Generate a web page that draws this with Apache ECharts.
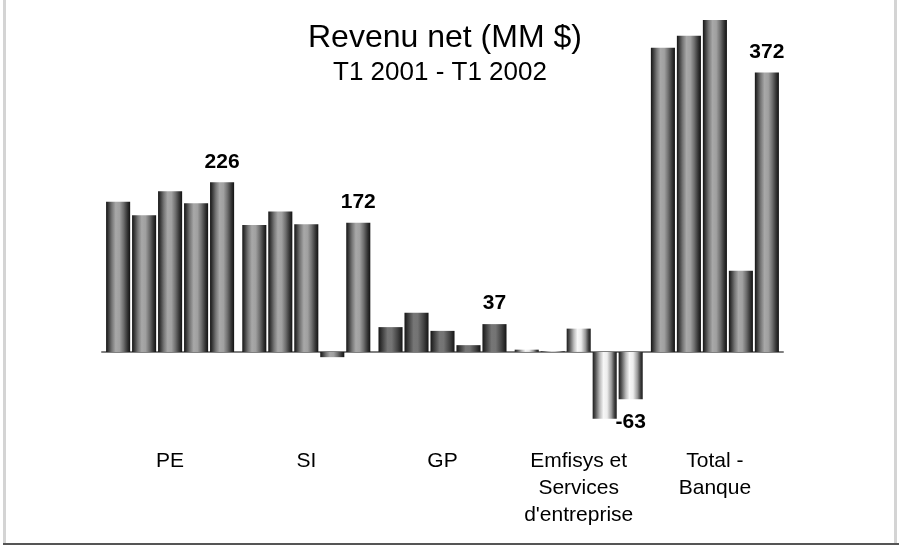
<!DOCTYPE html>
<html>
<head>
<meta charset="utf-8">
<title>Revenu net</title>
<script src="https://cdn.jsdelivr.net/npm/echarts/dist/echarts.min.js"></script>
<style>
    html, body { margin: 0; padding: 0; background: #fff; }
    #chart { width: 899px; height: 550px; }
</style>
</head>
<body>
<div id="chart"></div>
<script>
// categories (secteurs)
const categories = ['PE', 'SI', 'GP', "Emfisys et\nServices\nd'entreprise", 'Total -\nBanque'];
// trimestres
const quarters = ['T1 2001', 'T2 2001', 'T3 2001', 'T4 2001', 'T1 2002'];
// revenu net par trimestre, une valeur par secteur
const t1_2001 = [200, 169, 33, 3, 405];
const t2_2001 = [182, 187, 52, 1, 421];
const t3_2001 = [214, 170, 28, 31, 442];
const t4_2001 = [198, -7, 9, -89, 108];
const t1_2002 = [226, 172, 37, -63, 372];
const values = [t1_2001, t2_2001, t3_2001, t4_2001, t1_2002];

const chart = echarts.init(document.getElementById('chart'));

// effet cylindre (degrade horizontal)
function cylinder(stops) {
    return new echarts.graphic.LinearGradient(0, 0, 1, 0, stops.map(function (s) {
        return { offset: s[0], color: s[1] };
    }));
}
const grayFill = cylinder([
    [0, '#141414'], [0.1, '#3c3c3c'], [0.24, '#767676'], [0.4, '#a8a8a8'],
    [0.56, '#a0a0a0'], [0.72, '#707070'], [0.88, '#363636'], [1, '#111111'],
]);
const darkFill = cylinder([
    [0, '#161616'], [0.14, '#3a3a3a'], [0.38, '#767676'], [0.55, '#747474'],
    [0.8, '#424242'], [1, '#141414'],
]);
const lightFill = cylinder([
    [0, '#1c1c1c'], [0.12, '#555555'], [0.3, '#bbbbbb'], [0.45, '#f6f6f6'],
    [0.6, '#ededed'], [0.78, '#999999'], [0.9, '#444444'], [1, '#191919'],
]);
// un remplissage par secteur
const fills = [grayFill, grayFill, darkFill, lightFill, grayFill];

const labelFont = {
    fontFamily: '"Liberation Sans", Arial, sans-serif',
    fontWeight: 'bold',
    fontSize: 21,
    color: '#000',
};

const series = values.map(function (vals, si) {
    const last = si === values.length - 1;
    return {
        name: quarters[si],
        type: 'bar',
        barGap: '8%',
        barCategoryGap: '6%',
        data: vals.map(function (v, ci) {
            const item = { value: v, itemStyle: { color: fills[ci] } };
            if (last) {
                item.label = Object.assign({
                    show: true,
                    position: v < 0 ? 'bottom' : 'top',
                    distance: v < 0 ? 12 : 10,
                }, labelFont);
            }
            return item;
        }),
    };
});

const option = {
    animation: false,
    backgroundColor: '#fff',
    title: [
        {
            text: 'Revenu net (MM $)',
            left: 303,
            top: 17,
            textStyle: { fontFamily: '"Liberation Sans", Arial, sans-serif', fontWeight: 'normal', fontSize: 32, color: '#000' },
        },
        {
            text: 'T1 2001 - T1 2002',
            left: 328,
            top: 55,
            textStyle: { fontFamily: '"Liberation Sans", Arial, sans-serif', fontWeight: 'normal', fontSize: 26, color: '#000' },
        },
    ],
    grid: { left: 102, right: 116, top: 14, bottom: 123, outerBoundsMode: 'none', containLabel: false },
    xAxis: {
        type: 'category',
        data: categories,
        axisLine: { onZero: true, lineStyle: { color: '#808080', width: 2 } },
        axisTick: { show: false },
        axisLabel: {
            interval: 0,
            margin: 21,
            fontFamily: '"Liberation Sans", Arial, sans-serif',
            fontSize: 21,
            lineHeight: 27,
            color: '#000',
            align: 'center',
        },
    },
    yAxis: {
        type: 'value',
        min: -100,
        max: 450,
        show: false,
    },
    series: series,
    graphic: [
        // cadre de la diapositive
        { type: 'rect', shape: { x: 3, y: 0, width: 3, height: 544 }, style: { fill: '#d4d4d4' }, silent: true },
        { type: 'rect', shape: { x: 894, y: 0, width: 3, height: 544 }, style: { fill: '#d4d4d4' }, silent: true },
        { type: 'rect', shape: { x: 3, y: 543, width: 896, height: 2 }, style: { fill: '#555' }, silent: true },
    ],
};

chart.setOption(option);
</script>
</body>
</html>
